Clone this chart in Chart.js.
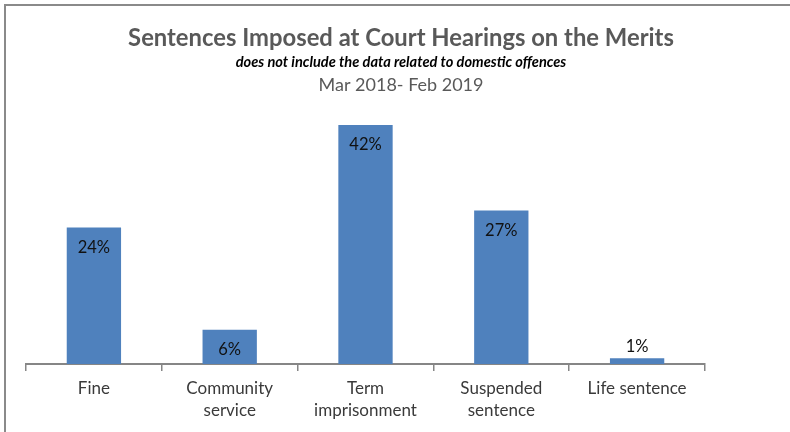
<!DOCTYPE html>
<html>
<head>
<meta charset="utf-8">
<script src="https://cdn.jsdelivr.net/npm/chart.js@4"></script>
<style>
  html, body { margin: 0; padding: 0; background: #fff; }
  #wrap { width: 790px; height: 432px; position: relative; }
</style>
</head>
<body>
<div id="wrap"><canvas id="sentencesChart" width="790" height="432"></canvas></div>
<script>
const categories = [["Fine"], ["Community", "service"], ["Term", "imprisonment"], ["Suspended", "sentence"], ["Life sentence"]];
const shares = [24, 6, 42, 27, 1];

const titleText = "Sentences Imposed at Court Hearings on the Merits";
const noteText = "does not include the data related to domestic offences";
const periodText = "Mar 2018- Feb 2019";

// frame and header lines
const headerPlugin = {
    id: "header",
    beforeDraw(chart) {
        const ctx = chart.ctx;
        ctx.save();
        ctx.fillStyle = "#fff";
        ctx.fillRect(0, 0, chart.width, chart.height);
        ctx.strokeStyle = "#8a8a8a";
        ctx.lineWidth = 2;
        ctx.beginPath();
        ctx.moveTo(5, chart.height + 2);
        ctx.lineTo(5, 5);
        ctx.lineTo(chart.width + 2, 5);
        ctx.stroke();

        const cx = 401;
        ctx.textAlign = "center";
        ctx.textBaseline = "alphabetic";
        ctx.fillStyle = "#595959";
        ctx.font = "bold 23.8px Lato";
        ctx.fillText(titleText, cx, 46);
        ctx.fillStyle = "#000";
        ctx.font = "italic bold 14.6px Lato";
        ctx.fillText(noteText, cx, 67);
        ctx.fillStyle = "#595959";
        ctx.font = "18px Lato";
        ctx.fillText(periodText, cx, 91);
        ctx.restore();
    }
};

// percentage labels: inside the bar top when it fits, otherwise above it
const valueLabels = {
    id: "valueLabels",
    afterDatasetsDraw(chart) {
        const ctx = chart.ctx;
        const meta = chart.getDatasetMeta(0);
        ctx.save();
        ctx.font = "16.5px Lato";
        ctx.fillStyle = "#111";
        ctx.textAlign = "center";
        ctx.textBaseline = "middle";
        meta.data.forEach((bar, i) => {
            const h = bar.base - bar.y;
            const y = h > 28 ? bar.y + 20 : bar.y - 12;
            ctx.fillText(shares[i] + "%", bar.x, y);
        });
        ctx.restore();
    }
};

const ctx = document.getElementById("sentencesChart").getContext("2d");

new Chart(ctx, {
    type: "bar",
    data: {
        labels: categories,
        datasets: [{
            data: shares,
            backgroundColor: "#4f81bd",
            borderWidth: 0,
            barPercentage: 0.4,
            categoryPercentage: 1
        }]
    },
    options: {
        responsive: false,
        animation: false,
        layout: { padding: { top: 108, left: 26, right: 85, bottom: 0 } },
        plugins: {
            legend: { display: false },
            title: { display: false },
            tooltip: { enabled: false }
        },
        scales: {
            x: {
                offset: true,
                grid: {
                    offset: true,
                    drawOnChartArea: false,
                    drawTicks: true,
                    tickLength: 7,
                    color: "#868686",
                    lineWidth: 1.5
                },
                border: { color: "#868686", width: 2 },
                ticks: {
                    color: "#3a3a3a",
                    font: { family: "Lato", size: 17, lineHeight: 1.3 },
                    padding: 6,
                    maxRotation: 0
                },
                afterFit(scale) { scale.height = 68; }
            },
            y: {
                display: false,
                min: 0,
                max: 45
            }
        }
    },
    plugins: [headerPlugin, valueLabels]
});
</script>
</body>
</html>
